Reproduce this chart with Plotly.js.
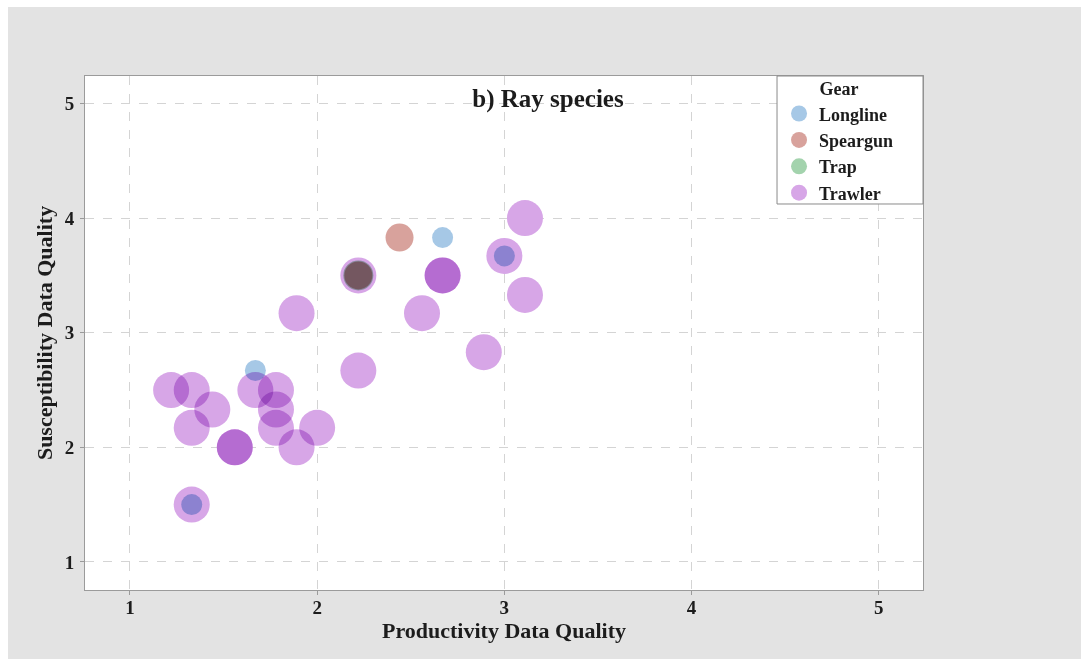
<!DOCTYPE html>
<html>
<head>
<meta charset="utf-8">
<script src="https://cdn.plot.ly/plotly-3.0.1.min.js"></script>
<style>
  html, body { margin: 0; padding: 0; background: #ffffff; }
  #chart {
    position: absolute; left: 8px; top: 7px;
    width: 1073px; height: 652px;
  }
  /* overlapping bubbles darken each other like ink */
  #chart .scatterlayer path.point { mix-blend-mode: multiply; }
</style>
</head>
<body>
<div id="chart"></div>
<script>
// Data quality scores per gear (productivity on x, susceptibility on y)
const gears = ['Longline', 'Speargun', 'Trap', 'Trawler'];

const longlineX = [1.33, 1.67, 2.67, 3.00];
const longlineY = [1.50, 2.67, 3.83, 3.67];

const speargunX = [2.44, 2.22];
const speargunY = [3.83, 3.50];

const trapX = [2.22];
const trapY = [3.50];

const trawlerX = [3.11, 3.00, 3.11, 2.67, 2.67, 2.56, 2.89, 1.89, 2.22, 2.22,
                  1.22, 1.33, 1.44, 1.33, 1.56, 1.56, 1.33, 1.67, 1.78, 1.78,
                  1.78, 1.89, 2.00];
const trawlerY = [4.00, 3.67, 3.33, 3.50, 3.50, 3.17, 2.83, 3.17, 2.67, 3.50,
                  2.50, 2.50, 2.33, 2.17, 2.00, 2.00, 1.50, 2.50, 2.50, 2.33,
                  2.17, 2.00, 2.17];

const axisTicks = [1, 2, 3, 4, 5];
const tickText = ['1', '2', '3', '4', '5'];

const chartTitle = 'b) Ray species';
const xTitle = 'Productivity Data Quality';
const yTitle = 'Susceptibility Data Quality';
const legendTitle = 'Gear';

// per-gear bubble look
const gearStyle = {
  Longline: { color: '#a6c8e6', size: 21 },
  Speargun: { color: '#d8a29c', size: 28 },
  Trap:     { color: '#a3d3ad', size: 30 },
  Trawler:  { color: '#d7a6e7', size: 36 }
};

const series = {
  Longline: [longlineX, longlineY],
  Speargun: [speargunX, speargunY],
  Trap:     [trapX, trapY],
  Trawler:  [trawlerX, trawlerY]
};

const traces = gears.map(g => ({
  type: 'scatter',
  mode: 'markers',
  name: g,
  x: series[g][0],
  y: series[g][1],
  marker: {
    symbol: 'circle',
    color: gearStyle[g].color,
    size: gearStyle[g].size,
    opacity: 1,
    line: { width: 0 }
  },
  hoverinfo: 'x+y+name'
}));

const serif = 'Liberation Serif, Times New Roman, serif';
const ink = '#1c1c1c';
const frame = '#9b9b9b';

const axisCommon = {
  tickmode: 'array',
  tickvals: axisTicks,
  ticktext: tickText,
  showgrid: true,
  gridcolor: '#d4d4d4',
  griddash: 'dash',
  gridwidth: 1,
  zeroline: false,
  showline: true,
  linecolor: frame,
  linewidth: 1,
  mirror: true,
  ticks: 'outside',
  ticklen: 4,
  tickwidth: 1,
  tickcolor: frame,
  tickfont: { family: serif, size: 19, weight: 'bold', color: ink }
};

const layout = {
  width: 1073,
  height: 652,
  margin: { l: 77, r: 158, t: 69, b: 69 },
  paper_bgcolor: '#e3e3e3',
  plot_bgcolor: '#ffffff',
  showlegend: true,
  title: {
    text: chartTitle,
    font: { family: serif, size: 25, weight: 'bold', color: ink },
    xref: 'paper', x: 0.5525, xanchor: 'center',
    yref: 'paper', y: 0.957, yanchor: 'middle'
  },
  xaxis: Object.assign({}, axisCommon, {
    range: [0.76, 5.236],
    ticklabelstandoff: -4,
    title: { text: xTitle, font: { family: serif, size: 22, weight: 'bold', color: ink }, standoff: 5 }
  }),
  yaxis: Object.assign({}, axisCommon, {
    range: [0.755, 5.24],
    ticklabelstandoff: 2,
    title: { text: yTitle, font: { family: serif, size: 22, weight: 'bold', color: ink }, standoff: 6 }
  }),
  // legend frame, sitting over the plot's upper right corner
  shapes: [{
    type: 'rect', layer: 'above',
    xref: 'paper', yref: 'paper',
    x0: 0.8258, x1: 1.0, y0: 0.751, y1: 1.0,
    fillcolor: '#ffffff',
    line: { color: '#8a8a8a', width: 1 }
  }],
  legend: {
    x: 0.8282, xanchor: 'left',
    y: 1.008, yanchor: 'top',
    bgcolor: 'rgba(0,0,0,0)',
    borderwidth: 0,
    font: { family: serif, size: 18, weight: 'bold', color: ink },
    title: { text: legendTitle, side: 'top center', font: { family: serif, size: 18, weight: 'bold', color: ink } },
    itemsizing: 'trace',
    tracegroupgap: 0
  }
};

Plotly.newPlot('chart', traces, layout, { displayModeBar: false, staticPlot: true });
</script>
</body>
</html>
